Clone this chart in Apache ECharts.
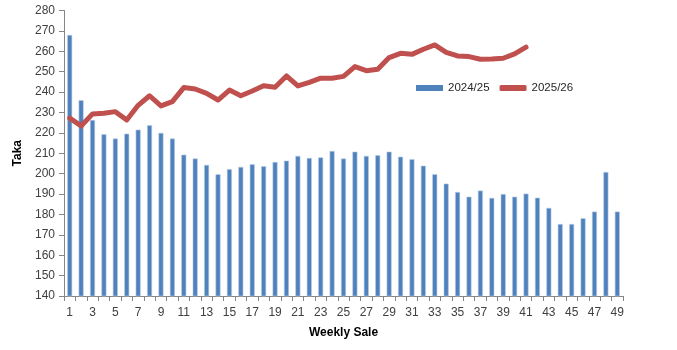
<!DOCTYPE html>
<html>
<head>
<meta charset="utf-8">
<script src="https://cdn.jsdelivr.net/npm/echarts@6/dist/echarts.min.js"></script>
<style>html,body{margin:0;padding:0;background:#fff}#c{width:677px;height:350px}</style>
</head>
<body>
<div id="c"></div>
<script>
const weeks = Array.from({length: 49}, (_, i) => String(i + 1));
const sales2024 = [268, 236, 226.3, 219.3, 217.2, 219.6, 221.6, 223.7, 220, 217.2,
  209.3, 207.4, 204.3, 199.7, 202.2, 203.3, 204.6, 203.6, 205.7, 206.4,
  208.7, 207.7, 208, 211.1, 207.4, 210.8, 208.7, 209, 210.8, 208.3,
  207.1, 203.9, 199.7, 195.1, 191, 188.7, 191.7, 188.1, 190, 188.7,
  190.2, 188.2, 183.2, 175.3, 175.3, 178.1, 181.4, 200.8, 181.4];
const sales2025 = [227.2, 223.4, 229.3, 229.6, 230.4, 226.3, 233.5, 238.2, 233.2, 235.3,
  242.2, 241.5, 239.4, 236.1, 241, 238.2, 240.5, 243.1, 242.4, 247.9,
  243, 244.8, 246.8, 246.8, 247.7, 252.5, 250.5, 251.2, 256.9, 259,
  258.5, 261, 263.1, 259.5, 257.7, 257.4, 256.1, 256.2, 256.6, 258.7, 262];
const seriesNames = ['2024/25', '2025/26'];
const yTicks = {min: 140, max: 280, interval: 10};

const font = 'Liberation Sans';
const chart = echarts.init(document.getElementById('c'), null, {renderer: 'canvas'});
chart.setOption({
  animation: false,
  textStyle: {fontFamily: font},
  grid: {left: 64, right: 54, top: 10.5, bottom: 54, containLabel: false},
  legend: {
    left: 411, top: 77,
    itemWidth: 27, itemHeight: 6, itemGap: 10,
    textStyle: {fontFamily: font, fontSize: 11.5, color: '#262626'},
    data: [
      {name: seriesNames[0], icon: 'rect', itemStyle: {color: '#4F81BD', borderWidth: 0}},
      {name: seriesNames[1], icon: 'roundRect', itemStyle: {color: '#C0504D', borderWidth: 0}}
    ]
  },
  xAxis: {
    type: 'category',
    data: weeks,
    boundaryGap: true,
    name: 'Weekly Sale',
    nameLocation: 'middle',
    nameGap: 31,
    nameTextStyle: {fontFamily: font, fontSize: 12, fontWeight: 'bold', color: '#000'},
    axisLine: {lineStyle: {color: '#868686', width: 1}},
    axisTick: {show: true, interval: 0, length: 5, alignWithLabel: false, lineStyle: {color: '#868686'}},
    axisLabel: {interval: 1, fontFamily: font, fontSize: 12, color: '#404040', margin: 11},
    splitLine: {show: false}
  },
  yAxis: {
    type: 'value',
    min: yTicks.min, max: yTicks.max, interval: yTicks.interval,
    name: 'Taka',
    nameLocation: 'middle',
    nameGap: 36,
    nameRotate: 90,
    nameTextStyle: {fontFamily: font, fontSize: 12, fontWeight: 'bold', color: '#000'},
    axisLine: {show: true, lineStyle: {color: '#868686', width: 1}},
    axisTick: {show: true, length: 5, inside: false, lineStyle: {color: '#868686'}},
    axisLabel: {fontFamily: font, fontSize: 12, color: '#404040', margin: 9},
    splitLine: {show: false}
  },
  series: [
    {
      name: seriesNames[0],
      type: 'bar',
      data: sales2024,
      barWidth: 5,
      itemStyle: {color: '#4F81BD', borderColor: '#B9CDE5', borderWidth: 0.6}
    },
    {
      name: seriesNames[1],
      type: 'line',
      data: sales2025,
      symbol: 'none',
      showSymbol: false,
      lineStyle: {color: '#C0504D', width: 5, join: 'round', cap: 'round'},
      itemStyle: {color: '#C0504D'},
      z: 3
    }
  ]
});
</script>
</body>
</html>
